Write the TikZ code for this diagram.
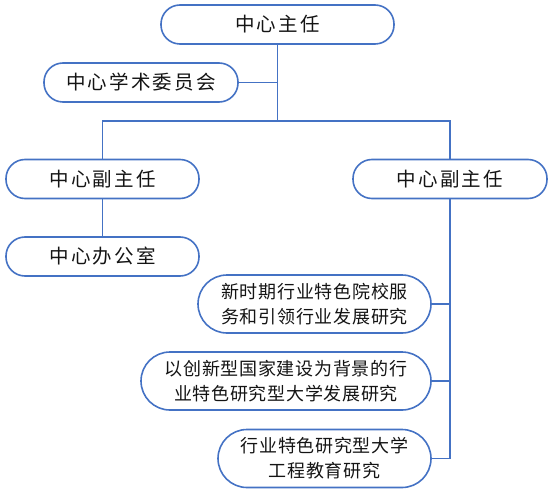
\documentclass[tikz,border=0pt]{standalone}
\usepackage{fontspec}
\newfontfamily\cjkA[LetterSpace=11]{Noto Sans CJK SC}
\newfontfamily\cjkB[LetterSpace=4]{Noto Sans CJK SC}
\definecolor{lineblue}{RGB}{68,114,196}
\definecolor{txt}{RGB}{20,20,20}
\begin{document}
\begin{tikzpicture}[x=1pt,y=-1pt,
  box/.style={draw=lineblue, line width=1.6pt, rounded corners=19pt, minimum height=39pt, inner sep=0pt, text=txt, font=\cjkA\fontsize{19.5}{22}\selectfont},
  bigbox/.style={draw=lineblue, line width=1.6pt, rounded corners=29pt, minimum height=58pt, inner sep=0pt, align=center, text=txt, font=\cjkB\fontsize{18}{25}\selectfont},
  conn/.style={draw=lineblue, line width=1.6pt}]
\useasboundingbox (0,0) rectangle (553,494);
\node[box, minimum width=233pt] (top) at (277.5,24.5) {中心主任};
\node[box, minimum width=194pt] (cm) at (141,82.5) {中心学术委员会};
\node[box, minimum width=193pt] (lv) at (102.5,179) {中心副主任};
\node[box, minimum width=194pt] (rv) at (450,179) {中心副主任};
\node[box, minimum width=193pt] (off) at (102.5,256.5) {中心办公室};
\node[bigbox, minimum width=233pt] (b1) at (314.5,304) {新时期行业特色院校服\\务和引领行业发展研究};
\node[bigbox, minimum width=290pt] (b2) at (286,381) {以创新型国家建设为背景的行\\业特色研究型大学发展研究};
\node[bigbox, minimum width=213pt] (b3) at (324.5,458.5) {行业特色研究型大学\\工程教育研究};
\coordinate (bar) at (277.5,121);
\draw[conn] (top.south) -- (bar);
\draw[conn] (cm.east) -- (cm.east -| top.south);
\draw[conn] (lv.north) |- (bar) -| (rv.north);
\draw[conn] (lv.south) -- (off.north);
\draw[conn] (rv.south) |- (b3.east);
\draw[conn] (b1.east) -- (b1.east -| rv.south);
\draw[conn] (b2.east) -- (b2.east -| rv.south);
\end{tikzpicture}
\end{document}
